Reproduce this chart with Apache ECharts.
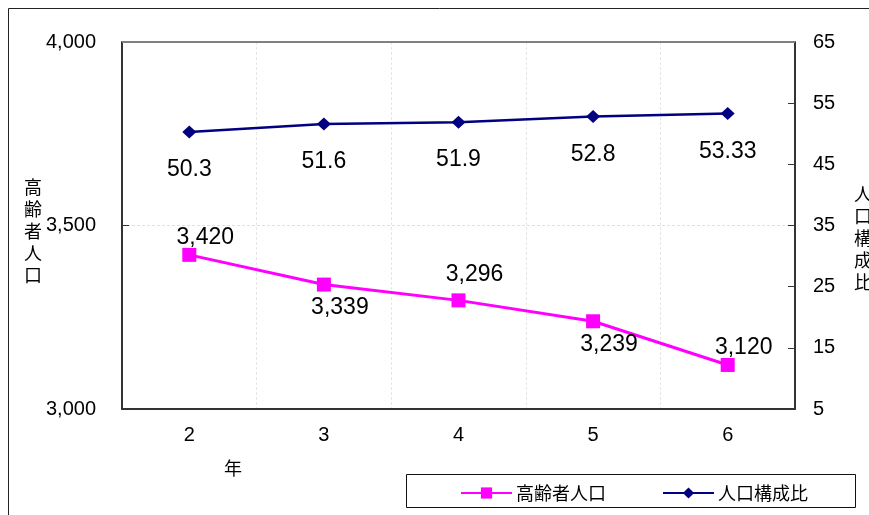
<!DOCTYPE html>
<html><head><meta charset="utf-8">
<script src="https://cdn.jsdelivr.net/npm/echarts@6/dist/echarts.min.js"></script>
<style>html,body{margin:0;padding:0;background:#fff}#c{width:869px;height:515px}</style>
</head><body><div id="c"></div>
<script>
var categories = ['2','3','4','5','6'];
var elderly = [3420, 3339, 3296, 3239, 3120];
var ratio = [50.3, 51.6, 51.9, 52.8, 53.33];
var leftTicks = {min:3000, max:4000, interval:500};
var rightTicks = {min:5, max:65, interval:10};

var numFont = 'Liberation Sans';
var cjkFont = 'Noto Sans CJK JP';
var pinkLabel = [['top',-1],['bottom',5],['top',7],['bottom',5],['top',-1]];

var chart = echarts.init(document.getElementById('c'));
chart.setOption({
  animation:false,
  backgroundColor:'#fff',
  grid:{left:122, top:42, right:74, bottom:106, show:false},
  graphic:[
    {type:'rect', shape:{x:8.5,y:8.5,width:900,height:600}, style:{fill:'none', stroke:'#222', lineWidth:1}, silent:true, z:-1},
    {type:'line', shape:{x1:122,y1:42,x2:795,y2:42}, style:{stroke:'#808080', lineWidth:2}, silent:true, z:10},
    {type:'rect', shape:{x:406.5,y:474.5,width:449,height:33}, style:{fill:'#fff', stroke:'#111', lineWidth:1}, silent:true, z:0},
    {type:'text', left:24, top:176, style:{text:'高\n齢\n者\n人\n口', font:'18px "Noto Sans CJK JP"', lineHeight:22, fill:'#000'}},
    {type:'text', left:854, top:183, style:{text:'人\n口\n構\n成\n比', font:'18px "Noto Sans CJK JP"', lineHeight:22, fill:'#000'}},
    {type:'text', left:224, top:459, style:{text:'年', font:'18px "Noto Sans CJK JP"', fill:'#000'}}
  ],
  legend:{
    left:455, top:479, itemWidth:51, itemHeight:14, itemGap:56,
    textStyle:{fontFamily:cjkFont, fontSize:18, color:'#000', padding:[0,0,0,-1]},
    data:['高齢者人口','人口構成比'], z:5
  },
  xAxis:{
    type:'category', data:categories, boundaryGap:true,
    axisLine:{lineStyle:{color:'#333', width:2}},
    axisTick:{alignWithLabel:true, length:5, lineStyle:{color:'#333', width:1}},
    axisLabel:{color:'#000', fontFamily:numFont, fontSize:20, margin:16},
    splitLine:{show:true, lineStyle:{color:'#e6e6e6', width:1, type:[3,2]}}
  },
  yAxis:[
    {type:'value', min:leftTicks.min, max:leftTicks.max, interval:leftTicks.interval,
     axisLine:{show:true, lineStyle:{color:'#333', width:2}},
     axisTick:{show:true, inside:true, length:7, lineStyle:{color:'#333'}},
     axisLabel:{color:'#000', fontFamily:numFont, fontSize:20, margin:26,
       formatter:function(v){return v.toLocaleString('en-US');}},
     splitLine:{show:true, lineStyle:{color:'#e0e0e0', width:1, type:[3,2]}}},
    {type:'value', min:rightTicks.min, max:rightTicks.max, interval:rightTicks.interval, position:'right',
     axisLine:{show:true, lineStyle:{color:'#333', width:2}},
     axisTick:{show:true, inside:true, length:7, lineStyle:{color:'#333'}},
     axisLabel:{color:'#000', fontFamily:numFont, fontSize:20, margin:18},
     splitLine:{show:false}}
  ],
  series:[
    {name:'高齢者人口', type:'line', yAxisIndex:0, symbol:'rect', symbolSize:14,
     color:'#ff00ff', lineStyle:{width:3, color:'#ff00ff'}, itemStyle:{color:'#ff00ff'},
     data:elderly.map(function(v,i){return {value:v, label:{position:pinkLabel[i][0], distance:pinkLabel[i][1]}};}),
     label:{show:true, offset:[16,0], color:'#000', fontFamily:numFont, fontSize:23,
       formatter:function(p){return p.value.toLocaleString('en-US');}}, z:3},
    {name:'人口構成比', type:'line', yAxisIndex:1, symbol:'diamond', symbolSize:[14,13],
     color:'#000080', lineStyle:{width:2.5, color:'#000080'}, itemStyle:{color:'#000080'},
     data:ratio,
     label:{show:true, position:'bottom', distance:20, color:'#000', fontFamily:numFont, fontSize:23,
       formatter:function(p){return String(p.value);}}, z:3}
  ]
});
</script></body></html>
